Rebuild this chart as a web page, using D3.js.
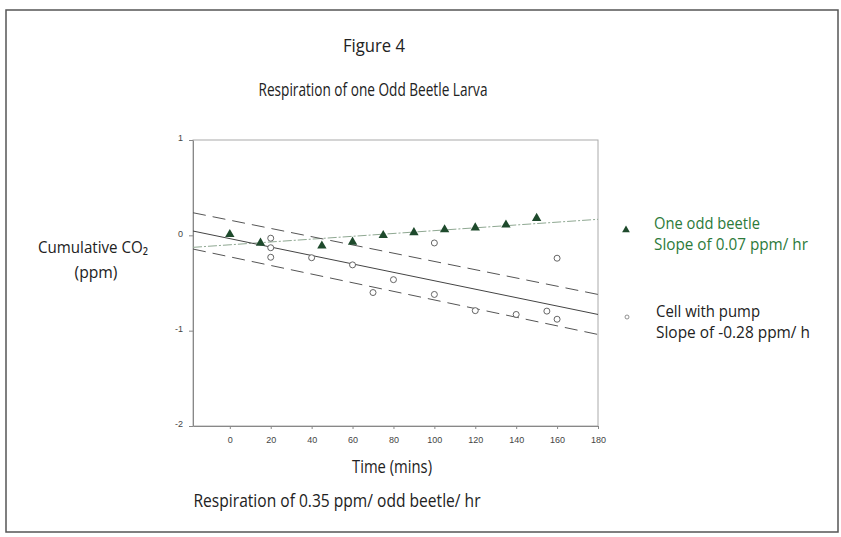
<!DOCTYPE html>
<html>
<head>
<meta charset="utf-8">
<script src="https://cdn.jsdelivr.net/npm/d3@7"></script>
<style>
  body { margin: 0; background: #fff; }
  text { font-family: "Liberation Sans Narrow", "Open Sans", sans-serif; fill: #222; }
  .tick text { font-family: Arial, "Liberation Sans", sans-serif; font-size: 9px; fill: #444; }
</style>
</head>
<body>
<svg id="chart" width="841" height="537"></svg>
<script>
// beetle (triangles)
var beetleTime = [0, 15, 45, 60, 75, 90, 105, 120, 135, 150];
var beetleCO2 = [0.01, -0.08, -0.11, -0.07, 0.0, 0.03, 0.06, 0.08, 0.11, 0.18];

// cell with pump (open circles)
var pumpTime = [20, 20, 20, 40, 60, 70, 80, 100, 100, 120, 140, 155, 160, 160];
var pumpCO2 = [-0.03, -0.13, -0.23, -0.235, -0.31, -0.6, -0.465, -0.08, -0.62, -0.79, -0.83, -0.795, -0.24, -0.88];

// fitted lines, read at the two ends of the time axis
var lineEnds = [-18, 180];
var beetleFit = [-0.126, 0.168];
var pumpFit = [0.045, -0.83];
var pumpUpper = [0.237, -0.62];
var pumpLower = [-0.144, -1.04];

var xTicks = [0, 20, 40, 60, 80, 100, 120, 140, 160, 180];
var yTicks = [1, 0, -1, -2];

var svg = d3.select('#chart');

// outer frame
svg.append('rect')
  .attr('x', 6).attr('y', 10)
  .attr('width', 832).attr('height', 522)
  .attr('fill', 'none')
  .attr('stroke', '#555')
  .attr('stroke-width', 1.5);

var x = d3.scaleLinear().domain([-18, 180]).range([193, 598]);
var y = d3.scaleLinear().domain([-2, 1]).range([426, 140]);

// plot frame
svg.append('rect')
  .attr('x', x(-18)).attr('y', y(1))
  .attr('width', x(180) - x(-18)).attr('height', y(-2) - y(1))
  .attr('fill', 'none')
  .attr('stroke', '#aaa');

svg.append('g')
  .attr('transform', 'translate(0,' + y(-2) + ')')
  .call(d3.axisBottom(x).tickValues(xTicks).tickFormat(function(d) { return String(d); })
    .tickSize(3).tickPadding(8).tickSizeOuter(0))
  .call(function(g) { g.select('.domain').attr('stroke', '#888'); })
  .call(function(g) { g.selectAll('.tick line').attr('stroke', '#888'); });

svg.append('g')
  .attr('transform', 'translate(' + x(-18) + ',0)')
  .call(d3.axisLeft(y).tickValues(yTicks).tickFormat(function(d) { return String(d); })
    .tickSize(4).tickPadding(6).tickSizeOuter(0))
  .call(function(g) { g.select('.domain').attr('stroke', '#888'); })
  .call(function(g) { g.selectAll('.tick line').attr('stroke', '#888'); })
  .call(function(g) { g.selectAll('.tick text').attr('dy', '0.1em'); });

function fitLine(vals) {
  return d3.line()
    .x(function(d, i) { return x(lineEnds[i]); })
    .y(function(d) { return y(d); })(vals);
}

svg.append('path')
  .attr('d', fitLine(beetleFit))
  .attr('fill', 'none')
  .attr('stroke', '#8fa892')
  .attr('stroke-width', 1)
  .attr('stroke-dasharray', '9,2,2,2');

svg.append('path')
  .attr('d', fitLine(pumpFit))
  .attr('fill', 'none')
  .attr('stroke', '#444')
  .attr('stroke-width', 1);

[pumpUpper, pumpLower].forEach(function(v) {
  svg.append('path')
    .attr('d', fitLine(v))
    .attr('fill', 'none')
    .attr('stroke', '#555')
    .attr('stroke-width', 1)
    .attr('stroke-dasharray', '13,7');
});

var tri = d3.symbol().type(d3.symbolTriangle).size(38);

svg.selectAll('.beetle')
  .data(beetleTime)
  .enter()
  .append('path')
    .attr('class', 'beetle')
    .attr('d', tri)
    .attr('transform', function(d, i) { return 'translate(' + x(d) + ',' + y(beetleCO2[i]) + ')'; })
    .attr('fill', '#1e4a2c');

svg.selectAll('.pump')
  .data(pumpTime)
  .enter()
  .append('circle')
    .attr('class', 'pump')
    .attr('cx', function(d) { return x(d); })
    .attr('cy', function(d, i) { return y(pumpCO2[i]); })
    .attr('r', 3)
    .attr('fill', '#fff')
    .attr('stroke', '#555')
    .attr('stroke-width', 0.9);

// titles and labels (condensed look via textLength)
function label(txt, x0, y0, size, w, anchor, color) {
  return svg.append('text')
    .attr('x', x0).attr('y', y0)
    .attr('text-anchor', anchor || 'middle')
    .attr('font-size', size)
    .attr('textLength', w)
    .attr('lengthAdjust', 'spacingAndGlyphs')
    .style('fill', color || '#222')
    .text(txt);
}

label('Figure 4', 374, 52, 19, 62);
label('Respiration of one Odd Beetle Larva', 373, 96, 18, 229);
label('Time (mins)', 392, 473, 19, 80);
label('Respiration of 0.35 ppm/ odd beetle/ hr', 337, 507, 18, 287);

label('Cumulative CO\u2082', 38, 253, 17, 110, 'start');
label('(ppm)', 96, 278, 17, 43);

// legend
svg.append('path')
  .attr('d', d3.symbol().type(d3.symbolTriangle).size(26))
  .attr('transform', 'translate(626,230)')
  .attr('fill', '#1e4a2c');

label('One odd beetle', 654, 229, 15.5, 106, 'start', '#2c7a3a');
label('Slope of 0.07 ppm/ hr', 654, 250, 15.5, 154, 'start', '#2c7a3a');

svg.append('circle')
  .attr('cx', 627).attr('cy', 317).attr('r', 2)
  .attr('fill', '#fff').attr('stroke', '#777').attr('stroke-width', 0.8);

label('Cell with pump', 656, 317, 15.5, 104, 'start');
label('Slope of -0.28 ppm/ h', 656, 338, 15.5, 154, 'start');
</script>
</body>
</html>
